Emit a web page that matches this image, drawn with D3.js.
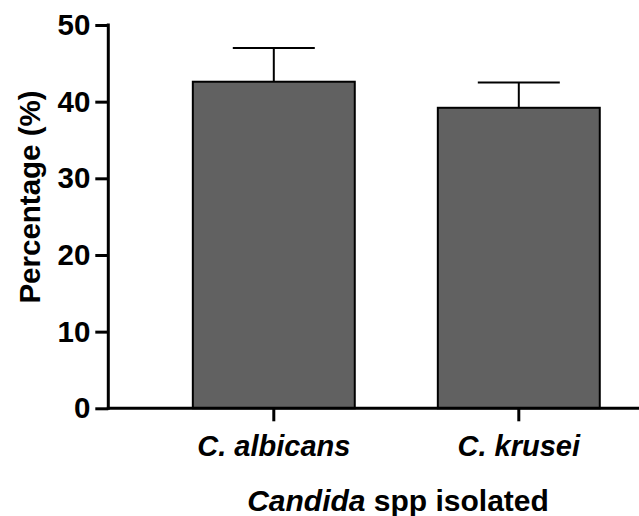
<!DOCTYPE html>
<html>
<head>
<meta charset="utf-8">
<script src="https://cdn.jsdelivr.net/npm/d3@7"></script>
<style>
html,body{margin:0;padding:0;background:#fff;}
svg{display:block;font-family:"Liberation Sans",Arial,sans-serif;}
</style>
</head>
<body>
<svg id="chart" width="639" height="516"></svg>
<script>
const categories = ["C. albicans", "C. krusei"];
const means = [42.6, 39.2];
const errors = [4.4, 3.3];
const yTicks = [0, 10, 20, 30, 40, 50];

const svg = d3.select("#chart");
const y = d3.scaleLinear().domain([0, 50]).range([408.3, 25]);
const x = d3.scaleBand().domain(categories).range([108.3, 684.3]).paddingInner(0.339).paddingOuter(0.345);

// bars
svg.selectAll("rect.bar").data(categories).enter().append("rect")
  .attr("x", d => x(d))
  .attr("y", (d, i) => y(means[i]))
  .attr("width", x.bandwidth())
  .attr("height", (d, i) => y(0) - y(means[i]))
  .attr("fill", "#616161")
  .attr("stroke", "#000")
  .attr("stroke-width", 2);

// error bars
const cap = 41;
categories.forEach((c, i) => {
  const cx = x(c) + x.bandwidth() / 2;
  svg.append("line").attr("x1", cx).attr("x2", cx)
    .attr("y1", y(means[i])).attr("y2", y(means[i] + errors[i]))
    .attr("stroke", "#000").attr("stroke-width", 2);
  svg.append("line").attr("x1", cx - cap).attr("x2", cx + cap)
    .attr("y1", y(means[i] + errors[i])).attr("y2", y(means[i] + errors[i]))
    .attr("stroke", "#000").attr("stroke-width", 2);
});

// y axis
const yAxis = d3.axisLeft(y).tickValues(yTicks).tickSize(13).tickPadding(5).tickSizeOuter(0);
const gy = svg.append("g").attr("transform", "translate(108.3,0)").call(yAxis);
gy.select(".domain").attr("stroke", "#000").attr("stroke-width", 3).attr("d", `M0,${y(50)-1.5}V${y(0)+1.5}`);
gy.selectAll(".tick line").attr("stroke", "#000").attr("stroke-width", 3);
gy.selectAll(".tick text").attr("font-size", 29.5).attr("font-weight", "bold").attr("fill", "#000")
  .attr("font-family", "Liberation Sans, Arial, sans-serif");

// x axis
const xAxis = d3.axisBottom(x).tickSize(13).tickPadding(14).tickSizeOuter(0);
const gx = svg.append("g").attr("transform", `translate(0,${y(0)})`).call(xAxis);
gx.select(".domain").attr("stroke", "#000").attr("stroke-width", 3).attr("d", `M106.8,0H684`);
gx.selectAll(".tick line").attr("stroke", "#000").attr("stroke-width", 3);
gx.selectAll(".tick text").attr("font-size", 29).attr("font-weight", "bold").attr("font-style", "italic")
  .attr("fill", "#000").attr("font-family", "Liberation Sans, Arial, sans-serif");

// y label
svg.append("text")
  .attr("transform", "translate(40,197) rotate(-90)")
  .attr("text-anchor", "middle")
  .attr("font-size", 29.5).attr("font-weight", "bold").attr("fill", "#000")
  .text("Percentage (%)");

// x title
const t = svg.append("text")
  .attr("x", 398).attr("y", 511)
  .attr("text-anchor", "middle")
  .attr("font-size", 30).attr("font-weight", "bold").attr("fill", "#000");
t.append("tspan").attr("font-style", "italic").text("Candida");
t.append("tspan").text(" spp isolated");
</script>
</body>
</html>
